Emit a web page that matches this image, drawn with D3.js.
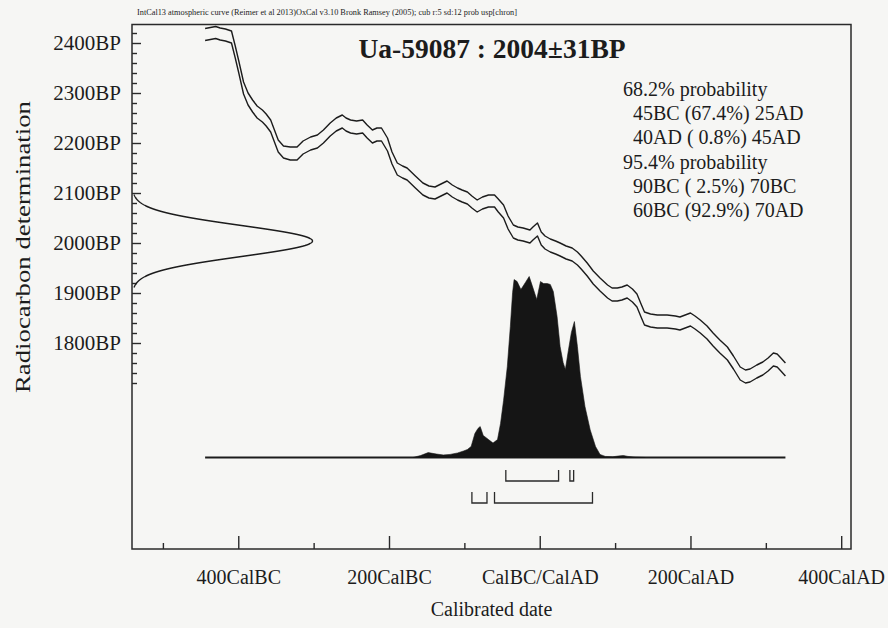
<!DOCTYPE html>
<html>
<head>
<meta charset="utf-8">
<script src="https://cdn.jsdelivr.net/npm/d3@7"></script>
<style>
  html, body { margin: 0; padding: 0; background: #f6f6f4; }
  svg { display: block; }
  text { font-family: "Liberation Serif", "Times New Roman", serif; fill: #1c1c1c; }
</style>
</head>
<body>
<svg id="chart" width="888" height="628"></svg>
<script>
// ---- Radiocarbon determination ----
const sampleName = "Ua-59087";
const bpMean = 2004;
const bpError = 31;
const headerText = "IntCal13 atmospheric curve (Reimer et al 2013)OxCal v3.10 Bronk Ramsey (2005); cub r:5 sd:12 prob usp[chron]";

// ---- Axis ticks ----
const calMajorTicks = [-400, -200, 0, 200, 400];
const calMajorLabels = ["400CalBC", "200CalBC", "CalBC/CalAD", "200CalAD", "400CalAD"];
const calMinorTicks = [-500, -300, -100, 100, 300];
const bpMajorTicks = [1800, 1900, 2000, 2100, 2200, 2300, 2400];
const bpMinorTicks = [1720, 1740, 1760, 1780, 1820, 1840, 1860, 1880, 1920, 1940, 1960, 1980,
                      2020, 2040, 2060, 2080, 2120, 2140, 2160, 2180, 2220, 2240, 2260, 2280,
                      2320, 2340, 2360, 2380, 2420];

// ---- Calibration curve (IntCal13): calendar year, mean BP, 1 sigma ----
const curveYears = [-444, -430, -424, -417, -409, -404, -399, -393, -387, -381, -375, -368, -363, -357,
  -352, -347, -340, -331, -322, -314, -304, -295, -287, -278, -270, -262, -257, -251, -243, -235, -229,
  -222, -216, -210, -202, -196, -189, -182, -176, -165, -155, -147, -139, -131, -123, -116, -109, -103,
  -96, -90, -83, -76, -68, -60, -55, -48, -42, -35, -29, -22, -13, -9, -3, 2, 7, 14, 21, 27, 35, 43, 50,
  55, 63, 71, 80, 90, 96, 103, 109, 116, 123, 129, 135, 139, 147, 156, 169, 180, 186, 193, 200, 206,
  213, 222, 230, 239, 249, 257, 266, 273, 279, 288, 296, 303, 310, 315, 320, 326];
const curveMean = [2417, 2421, 2418, 2416, 2412, 2382, 2350, 2310, 2288, 2274, 2262, 2254, 2246, 2234,
  2214, 2194, 2182, 2179, 2179, 2191, 2199, 2203, 2213, 2227, 2237, 2243, 2237, 2233, 2231, 2233, 2223,
  2213, 2217, 2217, 2197, 2170, 2148, 2142, 2138, 2122, 2108, 2102, 2100, 2106, 2112, 2104, 2098, 2094,
  2090, 2082, 2074, 2080, 2084, 2084, 2075, 2063, 2041, 2023, 2019, 2017, 2013, 2019, 2027, 2009, 2001,
  1995, 1991, 1987, 1981, 1977, 1969, 1961, 1947, 1931, 1917, 1903, 1897, 1897, 1899, 1903, 1895, 1885,
  1863, 1849, 1845, 1843, 1843, 1841, 1839, 1843, 1847, 1841, 1833, 1821, 1807, 1793, 1779, 1761, 1739,
  1733, 1735, 1743, 1749, 1757, 1767, 1765, 1757, 1747];
const curveSigma = [12, 12, 12, 12, 12, 12, 12, 12, 12, 12, 12, 12, 12, 12, 12, 12, 12, 13, 13, 13, 13,
  13, 13, 13, 13, 13, 13, 13, 13, 13, 13, 13, 13, 13, 13, 12, 12, 12, 12, 12, 12, 12, 12, 12, 12, 12, 12,
  12, 12, 12, 12, 12, 12, 12, 13, 13, 13, 13, 13, 13, 13, 13, 13, 13, 13, 13, 13, 13, 13, 13, 13, 13, 13,
  13, 13, 13, 13, 13, 13, 13, 13, 13, 13, 13, 13, 13, 13, 13, 13, 13, 13, 13, 13, 13, 13, 13, 13, 13, 13,
  13, 13, 13, 13, 13, 13, 13, 13, 13];

// ---- Calibrated probability distribution (relative) ----
const probYears = [-168, -158, -148, -137, -128, -119, -109, -101, -96, -91, -86, -82, -79, -75, -68, -62,
  -56, -52, -48, -43, -39, -36, -34, -30, -25, -19, -14, -10, -4, 1, 5, 10, 14, 18, 23, 27, 31, 34, 38,
  42, 46, 50, 54, 60, 67, 74, 80, 87, 97, 104, 111, 117, 127, 140];
const probDensity = [0, 0.011, 0.027, 0.019, 0.014, 0.017, 0.025, 0.036, 0.044, 0.061, 0.133, 0.160,
  0.171, 0.122, 0.099, 0.080, 0.099, 0.188, 0.315, 0.503, 0.724, 0.912, 0.983, 0.972, 0.928, 0.967,
  1.000, 0.950, 0.873, 0.972, 0.961, 0.961, 0.956, 0.917, 0.779, 0.613, 0.525, 0.486, 0.591, 0.691,
  0.751, 0.613, 0.448, 0.282, 0.152, 0.061, 0.017, 0.006, 0.004, 0.008, 0.011, 0.006, 0.002, 0];

// ---- Highest probability ranges: from, to, percent ----
const ranges68 = [[-45, 25, 67.4], [40, 45, 0.8]];
const ranges95 = [[-90, -70, 2.5], [-60, 70, 92.9]];

// ---- Layout ----
const svg = d3.select("#chart");
const frame = { left: 132, right: 851, top: 24.5, bottom: 549 };

const x = d3.scaleLinear().domain([-541, 413]).range([frame.left, frame.right]);
const y = d3.scaleLinear().domain([1388, 2437]).range([frame.bottom, frame.top]);
const pScale = d3.scaleLinear().domain([0, 1]).range([457.5, 276.5]);
const gScale = d3.scaleLinear().domain([0, 1]).range([frame.left, 312.5]);

const ink = "#1c1c1c";

// Header line
svg.append("text")
  .attr("x", 137).attr("y", 15)
  .attr("font-size", 8.5)
  .attr("textLength", 380).attr("lengthAdjust", "spacingAndGlyphs")
  .text(headerText);

// Plot frame
svg.append("rect")
  .attr("x", frame.left).attr("y", frame.top)
  .attr("width", frame.right - frame.left).attr("height", frame.bottom - frame.top)
  .attr("fill", "none").attr("stroke", "#2a2a2a").attr("stroke-width", 1.5);

// Bottom axis: major ticks with labels, minor ticks without
const xMajor = d3.axisBottom(x).tickValues(calMajorTicks)
  .tickFormat((d, i) => calMajorLabels[i])
  .tickSizeInner(-13).tickSizeOuter(0).tickPadding(21);
const xMinor = d3.axisBottom(x).tickValues(calMinorTicks)
  .tickFormat("").tickSizeInner(-6).tickSizeOuter(0);

const gxMaj = svg.append("g").attr("transform", `translate(0,${frame.bottom})`).call(xMajor);
const gxMin = svg.append("g").attr("transform", `translate(0,${frame.bottom})`).call(xMinor);

// Left axis
const yMajor = d3.axisLeft(y).tickValues(bpMajorTicks)
  .tickFormat(d => d + "BP")
  .tickSizeInner(-9).tickSizeOuter(0).tickPadding(11);
const yMinor = d3.axisLeft(y).tickValues(bpMinorTicks)
  .tickFormat("").tickSizeInner(-5).tickSizeOuter(0);

const gyMaj = svg.append("g").attr("transform", `translate(${frame.left},0)`).call(yMajor);
const gyMin = svg.append("g").attr("transform", `translate(${frame.left},0)`).call(yMinor);

[gxMaj, gxMin, gyMaj, gyMin].forEach(g => {
  g.select(".domain").remove();
  g.selectAll(".tick line").attr("stroke", "#2a2a2a").attr("stroke-width", 1.4);
  g.selectAll(".tick text")
    .attr("font-family", "'Liberation Serif', 'Times New Roman', serif")
    .attr("font-size", 20).attr("fill", ink);
});
gyMaj.selectAll(".tick text").attr("font-size", 21);

// Axis titles
svg.append("text")
  .attr("x", (frame.left + frame.right) / 2).attr("y", 616)
  .attr("text-anchor", "middle").attr("font-size", 20)
  .text("Calibrated date");

svg.append("text")
  .attr("transform", "translate(30,247) rotate(-90)")
  .attr("text-anchor", "middle").attr("font-size", 22)
  .attr("textLength", 292).attr("lengthAdjust", "spacingAndGlyphs")
  .text("Radiocarbon determination");

// Title
svg.append("text")
  .attr("x", 492).attr("y", 58)
  .attr("text-anchor", "middle").attr("font-size", 27.5).attr("font-weight", "bold")
  .text(`${sampleName} : ${bpMean}\u00b1${bpError}BP`);

// Range summary text
const fmtYear = v => v < 0 ? `${-v}BC` : `${v}AD`;
const fmtPct = p => p.toFixed(1).padStart(4, " ");
const summary = [];
summary.push({ t: "68.2% probability", indent: false });
ranges68.forEach(r => summary.push({ t: `${fmtYear(r[0])} (${fmtPct(r[2])}%) ${fmtYear(r[1])}`, indent: true }));
summary.push({ t: "95.4% probability", indent: false });
ranges95.forEach(r => summary.push({ t: `${fmtYear(r[0])} (${fmtPct(r[2])}%) ${fmtYear(r[1])}`, indent: true }));

svg.append("g").selectAll("text").data(summary).join("text")
  .attr("x", d => d.indent ? 633 : 623)
  .attr("y", (d, i) => 96 + i * 24.2)
  .attr("font-size", 20)
  .style("white-space", "pre")
  .text(d => d.t);

// Calibration curve, drawn as mean ± 1 sigma
const curvePts = curveYears.map((yr, i) => ({ yr, m: curveMean[i], s: curveSigma[i] }));
const curveLine = fn => d3.line().x(d => x(d.yr)).y(d => y(fn(d))).curve(d3.curveLinear);

svg.append("path").datum(curvePts)
  .attr("d", curveLine(d => d.m + d.s))
  .attr("fill", "none").attr("stroke", ink).attr("stroke-width", 1.4).attr("stroke-linejoin", "round");
svg.append("path").datum(curvePts)
  .attr("d", curveLine(d => d.m - d.s))
  .attr("fill", "none").attr("stroke", ink).attr("stroke-width", 1.4).attr("stroke-linejoin", "round");

// Radiocarbon measurement as a normal distribution on the BP axis
const gaussPts = d3.range(bpMean - 3 * bpError, bpMean + 3 * bpError + 0.5, 1)
  .map(bp => ({ bp, v: Math.exp(-0.5 * Math.pow((bp - bpMean) / bpError, 2)) }));
svg.append("path").datum(gaussPts)
  .attr("d", d3.line().x(d => gScale(d.v)).y(d => y(d.bp)))
  .attr("fill", "none").attr("stroke", ink).attr("stroke-width", 1.4);

// Baseline of the calibrated distribution
svg.append("line")
  .attr("x1", x(curveYears[0])).attr("x2", x(curveYears[curveYears.length - 1]))
  .attr("y1", pScale(0)).attr("y2", pScale(0))
  .attr("stroke", ink).attr("stroke-width", 2.2);

// Calibrated probability distribution
const probPts = probYears.map((yr, i) => ({ yr, p: probDensity[i] }));
svg.append("path").datum(probPts)
  .attr("d", d3.area().x(d => x(d.yr)).y0(pScale(0)).y1(d => pScale(d.p)))
  .attr("fill", "#151515").attr("stroke", "#151515").attr("stroke-width", 0.6);

// Range brackets under the distribution
const drawRanges = (ranges, yBar) => {
  const h = 11;
  svg.append("g").selectAll("path").data(ranges).join("path")
    .attr("d", r => `M${x(r[0])},${yBar - h}V${yBar}H${x(r[1])}V${yBar - h}`)
    .attr("fill", "none").attr("stroke", "#2a2a2a").attr("stroke-width", 1.3);
};
drawRanges(ranges68, 481);
drawRanges(ranges95, 503);
</script>
</body>
</html>
